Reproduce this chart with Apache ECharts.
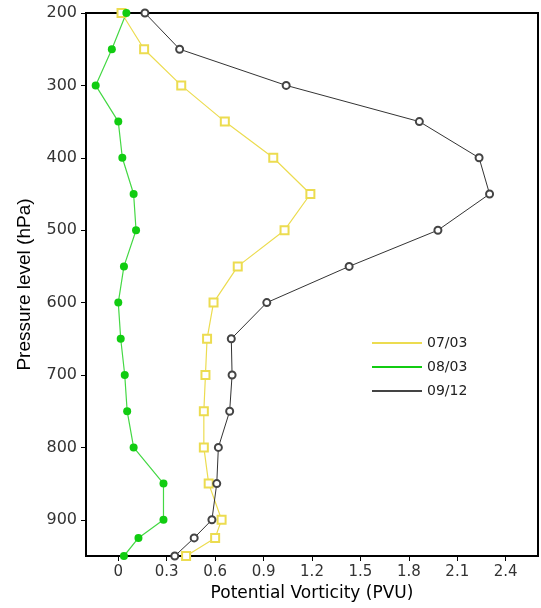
<!DOCTYPE html>
<html><head><meta charset="utf-8">
<script src="https://cdn.jsdelivr.net/npm/echarts@6/dist/echarts.min.js"></script>
<style>html,body{margin:0;padding:0;background:#fff}#c{width:541px;height:608px}</style>
</head><body><div id="c"></div>
<script>
var pressureLevels = [200,250,300,350,400,450,500,550,600,650,700,750,800,850,900,925,950];
var pv0703 = [0.02,0.16,0.39,0.66,0.96,1.19,1.03,0.74,0.59,0.55,0.54,0.53,0.53,0.56,0.64,0.60,0.42];
var pv0803 = [0.05,-0.04,-0.14,0.00,0.025,0.095,0.11,0.035,0.00,0.015,0.04,0.055,0.095,0.28,0.28,0.125,0.035];
var pv0912 = [0.165,0.38,1.04,1.865,2.235,2.30,1.98,1.43,0.92,0.70,0.705,0.69,0.62,0.61,0.58,0.47,0.35];
var xTicks = [0,0.3,0.6,0.9,1.2,1.5,1.8,2.1,2.4];
var yTicks = [200,300,400,500,600,700,800,900];
var seriesNames = ['07/03','08/03','09/12'];

function pairs(vals){ return vals.map(function(v,i){ return [v, pressureLevels[i]]; }); }

var chart = echarts.init(document.getElementById('c'), null, {renderer:'canvas'});
var labelFont = 'DejaVu Sans';
chart.setOption({
  animation:false,
  backgroundColor:'#fff',
  grid:{left:86, top:13, right:3, bottom:52, show:true, borderColor:'#000', borderWidth:2, backgroundColor:'transparent'},
  legend:{
    orient:'vertical', left:367, top:331, itemWidth:50, itemHeight:2, itemGap:10, icon:'rect',
    textStyle:{fontFamily:labelFont, fontSize:14, color:'#222', lineHeight:14, padding:[0,0,0,0]},
    data:seriesNames
  },
  xAxis:{
    type:'value', min:-0.2, max:2.6,
    name:'Potential Vorticity (PVU)', nameLocation:'middle', nameGap:27,
    nameTextStyle:{fontFamily:labelFont, fontSize:17, color:'#000'},
    axisLine:{show:true, onZero:false, lineStyle:{color:'#000', width:2}},
    axisTick:{show:true, length:5, customValues:xTicks, lineStyle:{color:'#000'}},
    axisLabel:{customValues:xTicks, margin:9, fontFamily:labelFont, fontSize:15, color:'#333',
      formatter:function(v){ return Math.abs(v)<1e-9 ? '0' : v.toFixed(1); }},
    splitLine:{show:false}
  },
  yAxis:{
    type:'value', inverse:true, min:200, max:950,
    name:'Pressure level (hPa)', nameLocation:'middle', nameGap:52, nameRotate:90,
    nameTextStyle:{fontFamily:'Liberation Sans', fontSize:19, color:'#000'},
    axisLine:{show:true, onZero:false, lineStyle:{color:'#000', width:2}},
    axisTick:{show:true, length:5, customValues:yTicks, lineStyle:{color:'#000'}},
    axisLabel:{customValues:yTicks, margin:9, fontFamily:labelFont, fontSize:16, color:'#333'},
    splitLine:{show:false}
  },
  series:[
    {name:seriesNames[0], type:'line', data:pairs(pv0703), symbol:'emptyRect', symbolSize:8,
     color:'#ecdc50', lineStyle:{width:1.2, color:'#ecdc50'}, itemStyle:{color:'#ecdc50', borderWidth:1.5}},
    {name:seriesNames[1], type:'line', data:pairs(pv0803), symbol:'circle', symbolSize:8,
     color:'#33d633', lineStyle:{width:1.2, color:'#44d844'}, itemStyle:{color:'#11cc11'}},
    {name:seriesNames[2], type:'line', data:pairs(pv0912), symbol:'emptyCircle', symbolSize:7,
     color:'#444', lineStyle:{width:1, color:'#333'}, itemStyle:{color:'#444', borderWidth:1}}
  ]
});
</script></body></html>
